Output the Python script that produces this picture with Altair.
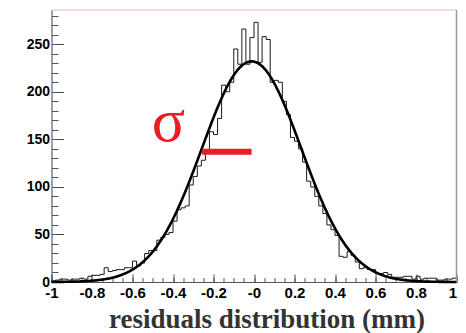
import json
import altair as alt
import numpy as np
import pandas as pd

# ---------------- data ----------------
X_RANGE = [-1.0, 1.0]
Y_RANGE = [0, 286]
N_BINS = 100
COUNTS = [
    1, 2, 3, 3, 2, 3, 3, 4, 3, 6,
    7, 7, 8, 15, 11, 12, 13, 13, 15, 15,
    22, 17, 20, 30, 33, 33, 44, 47, 50, 52,
    64, 76, 78, 80, 102, 111, 122, 128, 136, 158,
    155, 172, 207, 200, 210, 245, 229, 266, 229, 257,
    273, 231, 258, 255, 210, 212, 210, 190, 176, 152,
    148, 140, 126, 106, 100, 90, 80, 72, 60, 55,
    49, 27, 26, 32, 28, 21, 14, 15, 13, 13,
    9, 9, 10, 8, 5, 5, 5, 6, 6, 3,
    6, 3, 4, 4, 4, 2, 2, 3, 3, 4,
]
# Gaussian fit parameters
FIT_CONSTANT = 232.0
FIT_MEAN = -0.012
FIT_SIGMA = 0.245

X_MAJOR = [-1, -0.8, -0.6, -0.4, -0.2, 0, 0.2, 0.4, 0.6, 0.8, 1]
X_LABELS = ["-1", "-0.8", "-0.6", "-0.4", "-0.2", "-0", "0.2", "0.4", "0.6", "0.8", "1"]
X_MINOR = [round(-1 + 0.05 * i, 2) for i in range(41)]
Y_MAJOR = [0, 50, 100, 150, 200, 250]
Y_MINOR = list(range(0, 290, 10))
X_TITLE = "residuals distribution (mm)"
SIGMA_LABEL = "σ"
SIGMA_LABEL_X = -0.423
SIGMA_LABEL_Y = 148
SIGMA_BAR_Y = 137

RED = "#ec1c24"
LABEL_FONT = "Liberation Sans"
TITLE_FONT = "Liberation Serif"

# ---------------- tables ----------------
edges = np.linspace(X_RANGE[0], X_RANGE[1], N_BINS + 1)
hist_df = pd.DataFrame({"x": list(edges[:-1]) + [edges[-1]],
                        "y": COUNTS + [COUNTS[-1]]})
xs = np.linspace(X_RANGE[0], X_RANGE[1], 401)
curve_df = pd.DataFrame({"x": xs,
                         "y": FIT_CONSTANT * np.exp(-0.5 * ((xs - FIT_MEAN) / FIT_SIGMA) ** 2)})
bar_df = pd.DataFrame({"x": [FIT_MEAN - FIT_SIGMA], "x2": [FIT_MEAN], "y": [SIGMA_BAR_Y]})
label_df = pd.DataFrame({"x": [SIGMA_LABEL_X], "y": [SIGMA_LABEL_Y], "t": [SIGMA_LABEL]})
top_df = pd.DataFrame({"y": [Y_RANGE[1]]})
right_df = pd.DataFrame({"x": [X_RANGE[1]]})

xscale = alt.Scale(domain=X_RANGE, nice=False, zero=False)
yscale = alt.Scale(domain=Y_RANGE, nice=False)

x_label_expr = f"{json.dumps(X_LABELS)}[indexof({json.dumps(X_MAJOR)}, datum.value)]"
x_align_expr = f"datum.value >= {X_RANGE[1]} ? 'right' : 'center'"

hist = alt.Chart(hist_df).mark_line(
    interpolate="step-after", color="#1a1a1a", strokeWidth=1
).encode(
    x=alt.X("x:Q", scale=xscale, axis=alt.Axis(
        orient="bottom", values=X_MAJOR, labelExpr=x_label_expr, ticks=False, grid=False,
        labelAlign={"expr": x_align_expr},
        domainColor="#555", labelFont=LABEL_FONT, labelFontWeight="bold", labelFontSize=15,
        labelColor="#000", labelPadding=3, labelFlush=False, labelOverlap=False,
        title=X_TITLE, titleFont=TITLE_FONT, titleFontSize=27, titleFontWeight="bold",
        titleColor="#333", titleX=215, titleY=45, titleAlign="center",
        titleBaseline="alphabetic")),
    y=alt.Y("y:Q", scale=yscale, axis=alt.Axis(
        orient="left", values=Y_MAJOR, ticks=False, grid=False, domainColor="#444",
        labelFont=LABEL_FONT, labelFontWeight="bold", labelFontSize=14, labelColor="#000",
        labelPadding=2, labelFlush=False, labelOverlap=False, title=None)),
)

curve = alt.Chart(curve_df).mark_line(color="#000", strokeWidth=2.6).encode(
    x=alt.X("x:Q", scale=xscale, axis=alt.Axis(
        orient="bottom", values=X_MAJOR, labels=False, domain=False, grid=False,
        tickSize=8, offset=-8, tickColor="#444", title=None)),
    y=alt.Y("y:Q", scale=yscale, axis=alt.Axis(
        orient="left", values=Y_MAJOR, labels=False, domain=False, grid=False,
        tickSize=12, offset=-12, tickColor="#444", title=None)),
)

minor = alt.Chart(curve_df).mark_point(opacity=0).encode(
    x=alt.X("x:Q", scale=xscale, axis=alt.Axis(
        orient="bottom", values=X_MINOR, labels=False, domain=False, grid=False,
        tickSize=4.5, offset=-4.5, tickColor="#555", title=None)),
    y=alt.Y("y:Q", scale=yscale, axis=alt.Axis(
        orient="left", values=Y_MINOR, labels=False, domain=False, grid=False,
        tickSize=6.5, offset=-6.5, tickColor="#555", title=None)),
)

top_rule = alt.Chart(top_df).mark_rule(color="#f0b4b4", strokeWidth=1).encode(
    y=alt.Y("y:Q", axis=None))
right_rule = alt.Chart(right_df).mark_rule(color="#999", strokeWidth=1.5).encode(
    x=alt.X("x:Q", axis=None))

sigma_bar = alt.Chart(bar_df).mark_rule(color=RED, strokeWidth=6).encode(
    x=alt.X("x:Q", axis=None), x2="x2:Q", y=alt.Y("y:Q", axis=None))
sigma_text = alt.Chart(label_df).mark_text(
    font=TITLE_FONT, fontSize=62, color=RED, baseline="alphabetic", align="center"
).encode(x=alt.X("x:Q", axis=None), y=alt.Y("y:Q", axis=None), text="t:N")

chart = alt.layer(
    hist, curve, minor, top_rule, right_rule, sigma_bar, sigma_text
).resolve_axis(x="independent", y="independent").properties(
    width=405, height=272,
    padding={"left": 43.5, "top": 2, "right": 1.5, "bottom": 51},
    autosize=alt.AutoSizeParams(type="none"),
    background="white",
).configure_view(stroke=None)

chart.save("out.html", embed_options={"renderer": "svg", "actions": False})
